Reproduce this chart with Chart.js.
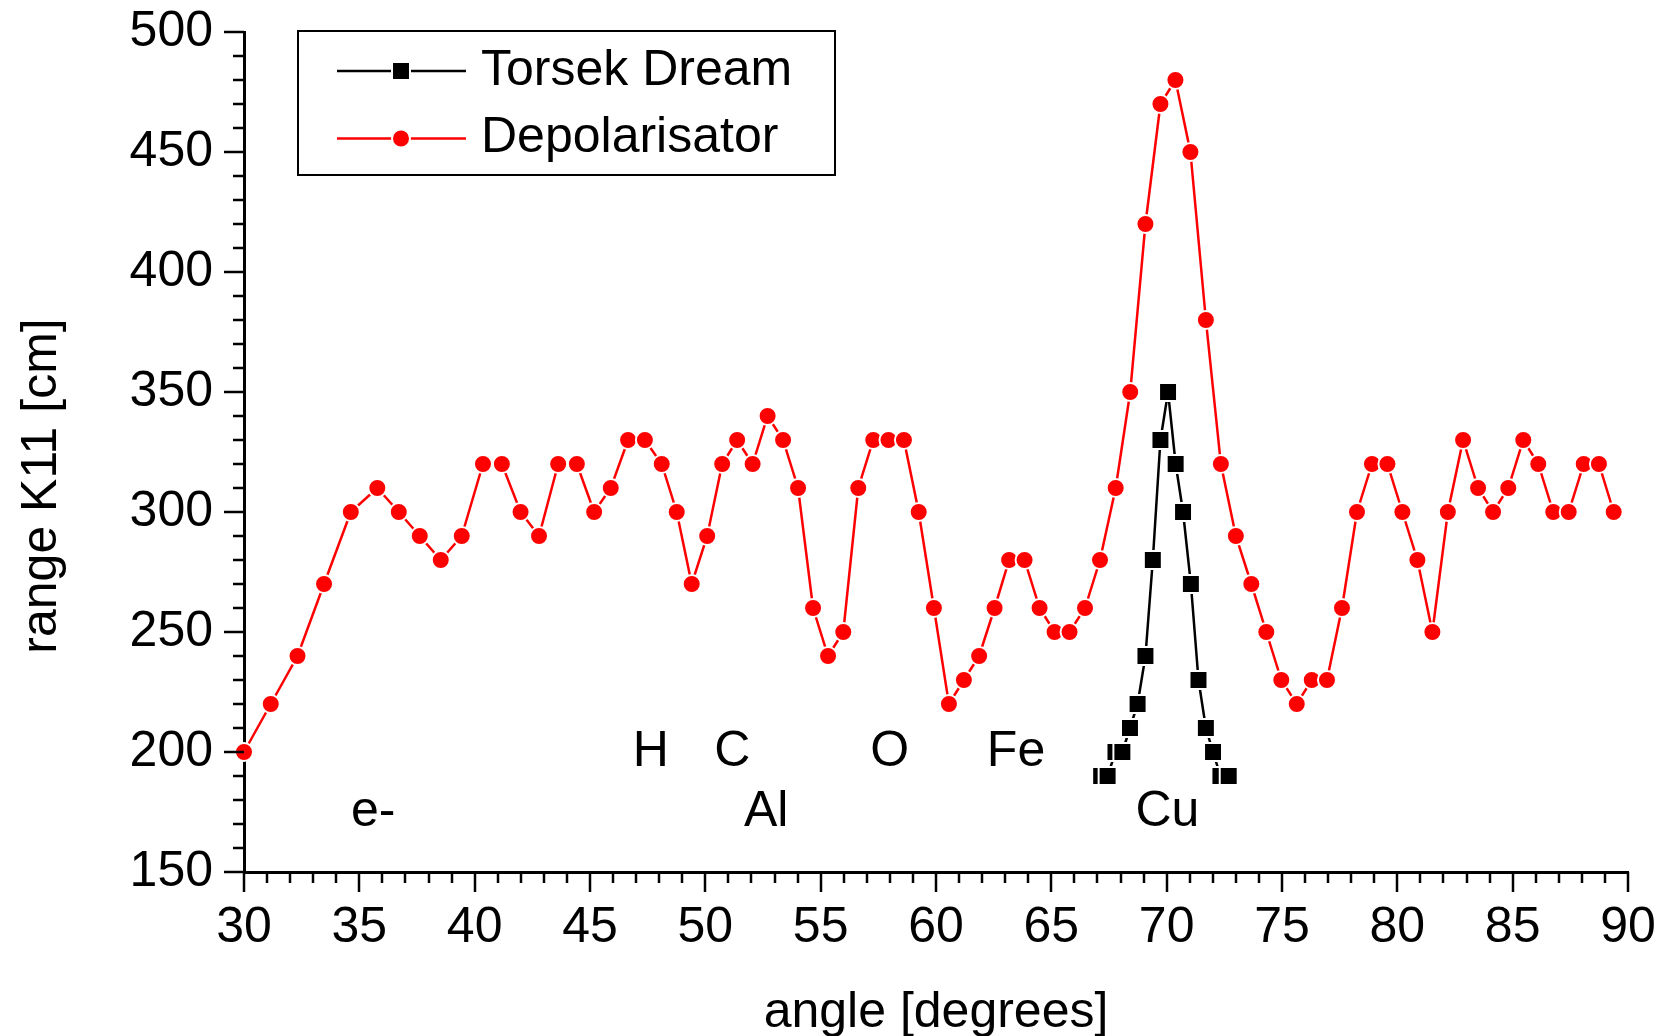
<!DOCTYPE html>
<html>
<head>
  <title>Range K11 vs angle</title>
  <script src="https://cdn.jsdelivr.net/npm/chart.js"></script>
  <style>
    html, body { margin: 0; padding: 0; background: #fff; }
  </style>
</head>
<body>
<canvas id="rangeChart" width="1660" height="1036"></canvas>

<script>
  // Torsek Dream (black squares)
  const torsekAngle = [67.16, 67.44, 67.78, 68.08, 68.41, 68.74, 69.08, 69.40, 69.73, 70.06,
                       70.39, 70.71, 71.05, 71.38, 71.70, 72.01, 72.33, 72.69];
  const torsekRange = [190, 190, 200, 200, 210, 220, 240, 280, 330, 350,
                       320, 300, 270, 230, 210, 200, 190, 190];

  // Depolarisator (red circles)
  const depolAngle = [30.00, 31.16, 32.32, 33.47, 34.63, 35.78, 36.71, 37.62, 38.53, 39.44,
                      40.36, 41.18, 41.99, 42.79, 43.62, 44.43, 45.18, 45.90, 46.65, 47.38,
                      48.11, 48.76, 49.41, 50.08, 50.73, 51.38, 52.05, 52.70, 53.37, 54.02,
                      54.67, 55.32, 55.98, 56.63, 57.28, 57.94, 58.61, 59.25, 59.91, 60.56,
                      61.21, 61.87, 62.54, 63.17, 63.84, 64.49, 65.14, 65.79, 66.46, 67.11,
                      67.79, 68.42, 69.08, 69.73, 70.38, 71.03, 71.70, 72.35, 73.00, 73.67,
                      74.32, 74.97, 75.64, 76.29, 76.95, 77.60, 78.25, 78.90, 79.57, 80.22,
                      80.87, 81.52, 82.19, 82.85, 83.50, 84.15, 84.81, 85.46, 86.11, 86.76,
                      87.43, 88.08, 88.74, 89.38];
  const depolRange = [200, 220, 240, 270, 300, 310, 300, 290, 280, 290,
                      320, 320, 300, 290, 320, 320, 300, 310, 330, 330,
                      320, 300, 270, 290, 320, 330, 320, 340, 330, 310,
                      260, 240, 250, 310, 330, 330, 330, 300, 260, 220,
                      230, 240, 260, 280, 280, 260, 250, 250, 260, 280,
                      310, 350, 420, 470, 480, 450, 380, 320, 290, 270,
                      250, 230, 220, 230, 230, 260, 300, 320, 320, 300,
                      280, 250, 300, 330, 310, 300, 310, 330, 320, 300,
                      300, 320, 320, 300];

  // element labels placed in data coordinates
  const elementLabels = ['e-', 'H', 'C', 'Al', 'O', 'Fe', 'Cu'];
  const elementAngle = [35.6, 47.64, 51.17, 52.64, 57.99, 63.47, 70.03];
  const elementRange = [175, 200, 200, 175, 200, 200, 175];

  // axis ticks
  const xTickLabels = [30, 35, 40, 45, 50, 55, 60, 65, 70, 75, 80, 85, 90];
  const yTickLabels = [150, 200, 250, 300, 350, 400, 450, 500];

  const FONT = '"Liberation Sans", Arial, sans-serif';

  const toPoints = (xs, ys) => xs.map((x, i) => ({ x: x, y: ys[i] }));

  // minor/major tick marks, element labels, y title and the boxed legend
  const decor = {
    id: 'decor',
    afterDraw(chart) {
      const ctx = chart.ctx;
      const xs = chart.scales.x, ys = chart.scales.y;
      const area = chart.chartArea;
      ctx.save();

      ctx.strokeStyle = '#000';
      ctx.lineWidth = 2.5;
      const xMin = xTickLabels[0], xMax = xTickLabels[xTickLabels.length - 1];
      for (let v = xMin; v <= xMax; v += 1) {
        const px = Math.round(xs.getPixelForValue(v));
        const len = xTickLabels.includes(v) ? 20 : 11;
        ctx.beginPath();
        ctx.moveTo(px, area.bottom);
        ctx.lineTo(px, area.bottom + len);
        ctx.stroke();
      }
      const yMin = yTickLabels[0], yMax = yTickLabels[yTickLabels.length - 1];
      for (let v = yMin; v <= yMax; v += 10) {
        const py = Math.round(ys.getPixelForValue(v));
        const len = yTickLabels.includes(v) ? 20 : 11;
        ctx.beginPath();
        ctx.moveTo(area.left, py);
        ctx.lineTo(area.left - len, py);
        ctx.stroke();
      }

      ctx.fillStyle = '#000';
      ctx.font = '50px ' + FONT;
      ctx.textAlign = 'center';
      ctx.textBaseline = 'middle';
      elementLabels.forEach((t, i) => {
        ctx.fillText(t, xs.getPixelForValue(elementAngle[i]), ys.getPixelForValue(elementRange[i]));
      });

      // y axis title
      ctx.save();
      ctx.translate(42, 486);
      ctx.rotate(-Math.PI / 2);
      ctx.fillText('range K11 [cm]', 0, 0);
      ctx.restore();

      // legend
      ctx.lineWidth = 2;
      ctx.strokeStyle = '#000';
      ctx.strokeRect(298, 31, 537, 144);
      chart.data.datasets.forEach((ds, i) => {
        const ly = 71 + i * 67.5;
        ctx.strokeStyle = ds.borderColor;
        ctx.lineWidth = ds.borderWidth;
        ctx.beginPath();
        ctx.moveTo(337, ly);
        ctx.lineTo(466, ly);
        ctx.stroke();
        ctx.fillStyle = ds.pointBackgroundColor;
        ctx.strokeStyle = ds.pointBorderColor;
        ctx.lineWidth = ds.pointBorderWidth;
        Chart.helpers.drawPoint(ctx, {
          pointStyle: ds.pointStyle, rotation: 0,
          radius: ds.pointRadius, borderWidth: ds.pointBorderWidth
        }, 401, ly);
        ctx.fillStyle = '#000';
        ctx.textAlign = 'left';
        ctx.fillText(ds.label, 481, ly);
      });

      ctx.restore();
    }
  };

  const chart = new Chart(document.getElementById('rangeChart').getContext('2d'), {
    type: 'line',
    data: {
      datasets: [
        {
          label: 'Torsek Dream',
          data: toPoints(torsekAngle, torsekRange),
          borderColor: '#000000',
          backgroundColor: '#000000',
          borderWidth: 2.5,
          pointStyle: 'rect',
          pointRadius: 12.7,
          pointBackgroundColor: '#000000',
          pointBorderColor: '#ffffff',
          pointBorderWidth: 2,
          tension: 0,
          clip: false
        },
        {
          label: 'Depolarisator',
          data: toPoints(depolAngle, depolRange),
          borderColor: '#ff0000',
          backgroundColor: '#ff0000',
          borderWidth: 2.5,
          pointStyle: 'circle',
          pointRadius: 9,
          pointBackgroundColor: '#ff0000',
          pointBorderColor: '#ffffff',
          pointBorderWidth: 2,
          tension: 0,
          clip: false
        }
      ]
    },
    options: {
      responsive: false,
      animation: false,
      events: [],
      layout: { padding: { left: 0, right: 32, top: 32, bottom: 0 } },
      plugins: {
        legend: { display: false },
        tooltip: { enabled: false }
      },
      scales: {
        x: {
          type: 'linear',
          min: 30,
          max: 90,
          afterFit: (s) => { s.height = 164; s.paddingLeft = 0; s.paddingRight = 0; },
          grid: { display: false, drawTicks: false },
          border: { display: true, color: '#000', width: 3 },
          ticks: {
            stepSize: 5, padding: 26, color: '#000', autoSkip: false, maxRotation: 0,
            font: { size: 50, family: FONT }
          },
          title: {
            display: true, text: 'angle [degrees]', color: '#000',
            font: { size: 50, family: FONT, lineHeight: 1 },
            padding: { top: 0, bottom: -2 }
          }
        },
        y: {
          type: 'linear',
          min: 150,
          max: 500,
          afterFit: (s) => { s.width = 244; s.paddingTop = 0; s.paddingBottom = 0; },
          grid: { display: false, drawTicks: false },
          border: { display: true, color: '#000', width: 3 },
          ticks: {
            stepSize: 50, padding: 31, color: '#000',
            font: { size: 50, family: FONT }
          }
        }
      }
    },
    plugins: [decor]
  });
</script>
</body>
</html>
